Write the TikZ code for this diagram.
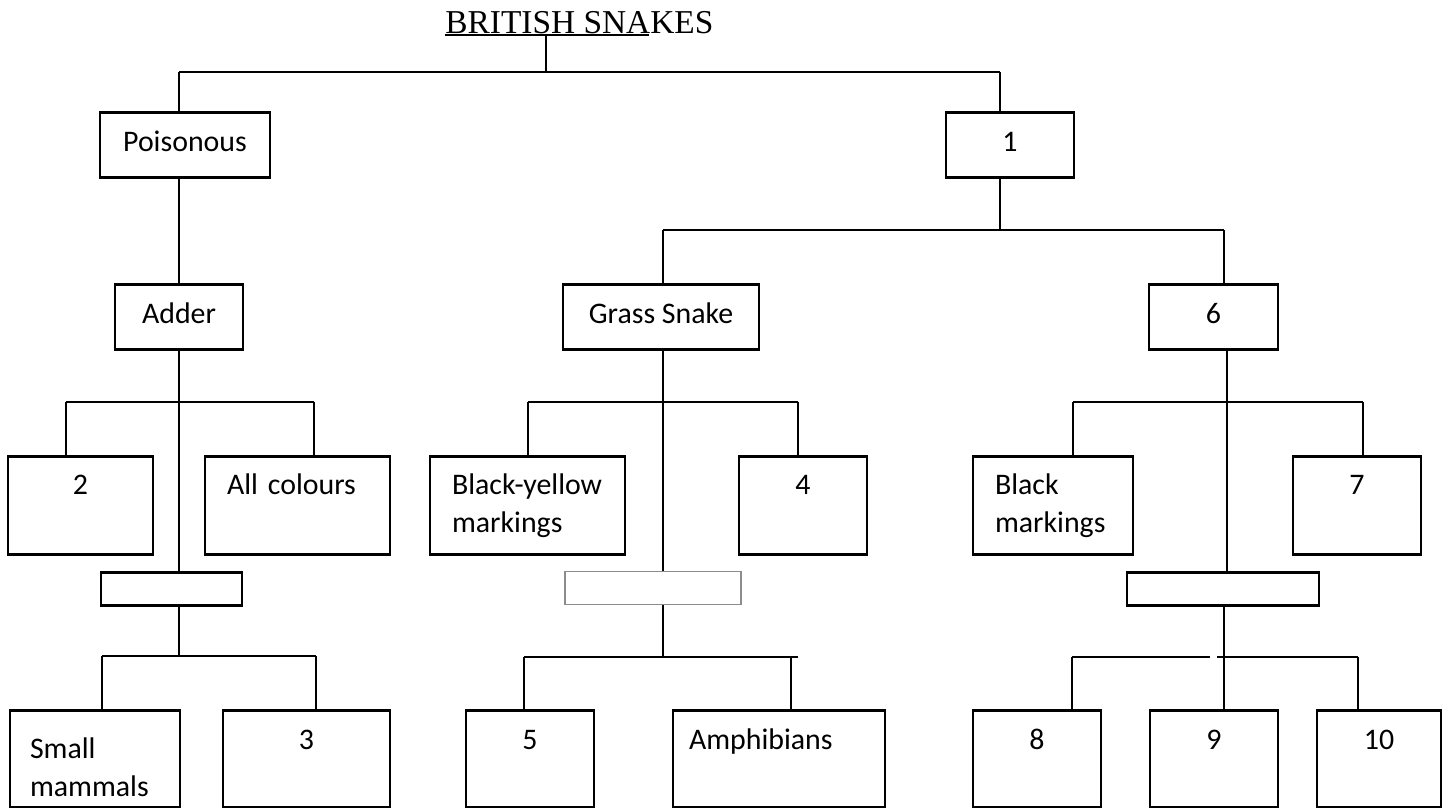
\documentclass[tikz,border=0pt]{standalone}
\usepackage{fontspec}
\usepackage{tikz}
\newfontfamily\boxfont{Carlito}
\newfontfamily\titlefont{Liberation Serif}
\tikzset{
  box/.style={
    draw,
    line width=1.6pt,
    anchor=north,
    inner xsep=0mm,
    inner ysep=0mm,
    font=\boxfont\fontsize{17pt}{21.6pt}\selectfont
  },
  lv1/.style={
    text height=0.78cm,
    text depth=0.52cm
  },
  lv3/.style={
    text height=0.76cm,
    text depth=1.2cm
  },
  lv5/.style={
    text height=0.78cm,
    text depth=1.16cm
  },
  gapbox/.style={
    box,
    minimum height=0.66cm
  },
  lbox/.style={
    align=left,
    text width=#1
  },
  conn/.style={
    line width=1.1pt
  },
  heading/.style={
    anchor=base west,
    inner sep=0mm,
    font=\titlefont\fontsize{19pt}{22pt}\selectfont
  }
}
\begin{document}
\begin{tikzpicture}[x=0.02cm, y=-0.02cm]
\useasboundingbox (0,0) rectangle (1445,808);
% title
\node[heading] (title) at (445,33) {BRITISH SNAKES};
\draw[conn] ([yshift=-1.2pt]title.base west) -- ++(204,0);
% level 1
\node[box, lv1, minimum width=3.4cm]  (poison) at (185,111) {Poisonous};
\node[box, lv1, minimum width=2.56cm] (one)    at (1010,111) {1};
% level 2
\node[box, lv1, minimum width=2.56cm] (adder)  at (179,283) {Adder};
\node[box, lv1, minimum width=3.92cm] (gsnake) at (661,283) {Grass Snake};
\node[box, lv1, minimum width=2.58cm] (six)    at (1213.5,283) {6};
% level 3
\node[box, lv3, minimum width=2.9cm]  (two)   at (80.5,455) {2};
\node[box, lv3, lbox=2.82cm, inner xsep=0.44cm] (allc) at (297.5,455) {All colours};
\node[box, lv3, lbox=3.02cm, inner xsep=0.44cm] (bym)  at (527.5,455) {Black-yellow\\markings};
\node[box, lv3, minimum width=2.56cm] (four)  at (803,455) {4};
\node[box, lv3, lbox=2.32cm, inner xsep=0.44cm] (bm)   at (1053,455) {Black\\markings};
\node[box, lv3, minimum width=2.56cm] (seven) at (1357,455) {7};
% empty boxes
\node[gapbox, minimum width=2.82cm] (gapL) at (171.5,571) {};
\node[gapbox, minimum width=3.52cm, draw=black!45, line width=0.8pt] (gapM) at (653,571) {};
\node[gapbox, minimum width=3.84cm] (gapR) at (1223,571) {};
% level 5
\node[box, lbox=2.6cm, inner xsep=0.4cm, text height=0.96cm, text depth=0.98cm] (smm) at (95,709) {Small\\mammals};
\node[box, lv5, minimum width=3.34cm] (three) at (306.5,709) {3};
\node[box, lv5, minimum width=2.56cm] (five)  at (530,709) {5};
\node[box, lv5, lbox=3.6cm, inner xsep=0.32cm] (amph) at (779,709) {Amphibians};
\node[box, lv5, minimum width=2.56cm] (eight) at (1037,709) {8};
\node[box, lv5, minimum width=2.56cm] (nine)  at (1214,709) {9};
\node[box, lv5, minimum width=2.48cm] (ten)   at (1379,709) {10};
% fork points
\coordinate (top) at (546,72);
\coordinate (f0a) at (179,72);   \coordinate (f0b) at (1000,72);
\coordinate (f1)  at (1000,230); \coordinate (f1a) at (663,230);  \coordinate (f1b) at (1224,230);
\coordinate (s2)  at (179,402);  \coordinate (f2a) at (66,402);   \coordinate (f2b) at (314,402);
\coordinate (s3)  at (663,402);  \coordinate (f3a) at (528,402);  \coordinate (f3b) at (798,402);
\coordinate (s4)  at (1227,402); \coordinate (f4a) at (1073,402); \coordinate (f4b) at (1363,402);
\coordinate (f5)  at (179,656);  \coordinate (f5a) at (102,656);  \coordinate (f5b) at (316,656);
\coordinate (f6)  at (663,657);  \coordinate (f6a) at (524,657);  \coordinate (f6b) at (798,657);
\coordinate (f6c) at (791,657);
\coordinate (f7c) at (1224,657); \coordinate (f7a) at (1072,657); \coordinate (f7b) at (1358,657);
\coordinate (f7g1) at (1210,657); \coordinate (f7g2) at (1217,657);
% bars
\draw[conn] (top |- title.south) -- (top);
\draw[conn] (f0a) -- (f0b)  (f1a) -- (f1b)  (f2a) -- (f2b)  (f3a) -- (f3b)  (f4a) -- (f4b)
  (f5a) -- (f5b)  (f6a) -- (f6b)  (f7a) -- (f7g1)  (f7g2) -- (f7b);
% drops
\foreach \fk/\nd in {f0a/poison, f0b/one, f1a/gsnake, f1b/six, f2a/two, f2b/allc,
  f3a/bym, f3b/four, f4a/bm, f4b/seven, f5a/smm, f5b/three, f6a/five, f6c/amph,
  f7a/eight, f7c/nine, f7b/ten}
  \draw[conn] (\fk) -- (\fk |- \nd.north);
% stems
\foreach \fk/\nd in {f1/one, s2/adder, s3/gsnake, s4/six, f5/gapL, f6/gapM, f7c/gapR}
  \draw[conn] (\fk) -- (\fk |- \nd.south);
\draw[conn] (adder.north) -- (adder.north |- poison.south);
\draw[conn] (s2) -- (s2 |- gapL.north);
\draw[conn] (s3) -- (s3 |- gapM.north);
\draw[conn] (s4) -- (s4 |- gapR.north);
\end{tikzpicture}
\end{document}
